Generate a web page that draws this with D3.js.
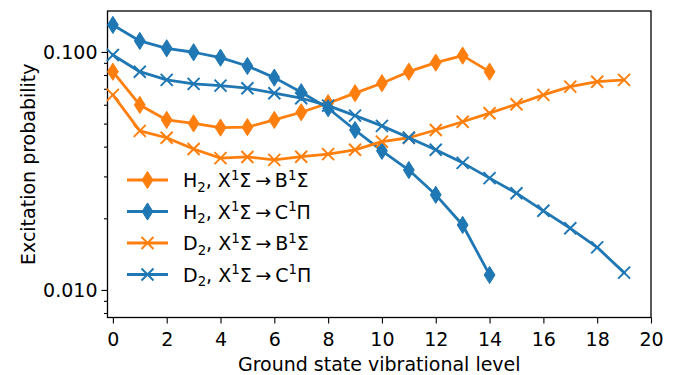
<!DOCTYPE html>
<html>
<head>
<meta charset="utf-8">
<script src="https://cdn.jsdelivr.net/npm/d3@7"></script>
<style>
  html, body { margin: 0; padding: 0; background: #fff; }
  svg { display: block; font-family: "DejaVu Sans", sans-serif; }
</style>
</head>
<body>
<svg id="chart" width="678" height="375"></svg>
<script>
// Vibrational levels of the ground state
const levelsH2 = [0, 1, 2, 3, 4, 5, 6, 7, 8, 9, 10, 11, 12, 13, 14];
const levelsD2 = [0, 1, 2, 3, 4, 5, 6, 7, 8, 9, 10, 11, 12, 13, 14, 15, 16, 17, 18, 19];

// Excitation probabilities per level
const h2XB = [0.0826, 0.0599, 0.0518, 0.0501, 0.0481, 0.0483, 0.0518, 0.0558, 0.0609, 0.0671,
              0.0739, 0.0826, 0.0902, 0.0965, 0.0826];
const h2XC = [0.1299, 0.1112, 0.1036, 0.0997, 0.0946, 0.0873, 0.0780, 0.0677, 0.0580, 0.0470,
              0.0384, 0.0319, 0.0251, 0.01875, 0.01156];
const d2XB = [0.0660, 0.0466, 0.0436, 0.0391, 0.0358, 0.0362, 0.0352, 0.0363, 0.0372, 0.0388,
              0.0420, 0.0436, 0.0470, 0.0509, 0.0553, 0.0603, 0.0660, 0.0715, 0.0750, 0.0763];
const d2XC = [0.0971, 0.0826, 0.0763, 0.0734, 0.0722, 0.0704, 0.0671, 0.0639, 0.0595, 0.0540,
              0.0489, 0.0436, 0.0388, 0.0342, 0.0295, 0.0255, 0.0215, 0.01816, 0.0151, 0.01182];

const xTicks = [0, 2, 4, 6, 8, 10, 12, 14, 16, 18, 20];
const yTicks = [0.01, 0.1];
const yTickLabels = ["0.010", "0.100"];

const ORANGE = "#ff7f0e", BLUE = "#1f77b4";

const series = [
  { levels: levelsH2, values: h2XB, color: ORANGE, marker: "diamond", mol: "H", upper: "B", term: "Σ" },
  { levels: levelsH2, values: h2XC, color: BLUE,   marker: "diamond", mol: "H", upper: "C", term: "Π" },
  { levels: levelsD2, values: d2XB, color: ORANGE, marker: "x",       mol: "D", upper: "B", term: "Σ" },
  { levels: levelsD2, values: d2XC, color: BLUE,   marker: "x",       mol: "D", upper: "C", term: "Π" }
];

const plot = { left: 107.5, right: 651, top: 11, bottom: 317.5 };
const FS = 19;

const svg = d3.select("#chart");

const x = d3.scaleLinear().domain([-0.2, 20]).range([plot.left, plot.right]);
const y = d3.scaleLog().domain([0.00766, 0.1486]).range([plot.bottom, plot.top]);

// Axes
const xAxis = d3.axisBottom(x).tickValues(xTicks).tickFormat(d3.format("d"))
  .tickSizeInner(6).tickSizeOuter(0);
const gx = svg.append("g").attr("transform", `translate(0,${plot.bottom})`).call(xAxis);

const minorY = [];
for (let e = -3; e <= 0; e++) for (let m = 2; m <= 9; m++) {
  const v = m * Math.pow(10, e);
  if (v >= y.domain()[0] && v <= y.domain()[1]) minorY.push(v);
}
const gyMinor = svg.append("g").attr("transform", `translate(${plot.left},0)`)
  .call(d3.axisLeft(y).tickValues(minorY).tickFormat("").tickSizeInner(3.5).tickSizeOuter(0));
const gy = svg.append("g").attr("transform", `translate(${plot.left},0)`)
  .call(d3.axisLeft(y).tickValues(yTicks).tickFormat((d, i) => yTickLabels[i])
    .tickSizeInner(6).tickSizeOuter(0).tickPadding(4));

[gx, gy, gyMinor].forEach(g => {
  g.select(".domain").remove();
  g.selectAll(".tick line").attr("stroke", "#000").attr("stroke-width", 1.1);
  g.selectAll(".tick text").attr("fill", "#000").style("font-size", FS + "px")
    .style("font-family", "DejaVu Sans");
});
gx.selectAll(".tick text").attr("y", 28).attr("dy", 0);

// Frame
svg.append("rect")
  .attr("x", plot.left).attr("y", plot.top)
  .attr("width", plot.right - plot.left).attr("height", plot.bottom - plot.top)
  .attr("fill", "none").attr("stroke", "#000").attr("stroke-width", 1.3);

// Axis titles
svg.append("text").attr("x", (plot.left + plot.right) / 2).attr("y", 371)
  .attr("text-anchor", "middle").style("font-size", FS + "px").text("Ground state vibrational level");
svg.append("text").attr("transform", `translate(35,${(plot.top + plot.bottom) / 2}) rotate(-90)`)
  .attr("text-anchor", "middle").style("font-size", FS + "px").text("Excitation probability");

// Marker shapes
function drawMarker(g, kind, color, cx, cy) {
  if (kind === "diamond") {
    const h = 8.6, w = 5.4;
    g.append("path").attr("d", `M${cx},${cy - h}L${cx + w},${cy}L${cx},${cy + h}L${cx - w},${cy}Z`)
      .attr("fill", color).attr("stroke", color).attr("stroke-width", 1);
  } else {
    const s = 6;
    g.append("path").attr("d", `M${cx - s},${cy - s}L${cx + s},${cy + s}M${cx - s},${cy + s}L${cx + s},${cy - s}`)
      .attr("fill", "none").attr("stroke", color).attr("stroke-width", 2);
  }
}

const line = d3.line().x(d => x(d[0])).y(d => y(d[1]));
const marks = svg.append("g");
series.forEach(s => {
  const pts = s.levels.map((l, i) => [l, s.values[i]]);
  const g = marks.append("g");
  g.append("path").datum(pts).attr("d", line)
    .attr("fill", "none").attr("stroke", s.color).attr("stroke-width", 2.8)
    .attr("stroke-linejoin", "round").attr("stroke-linecap", "square");
  pts.forEach(p => drawMarker(g, s.marker, s.color, x(p[0]), y(p[1])));
});

// Legend
const legend = svg.append("g");
const rowY = [180, 211.5, 243, 274.5];
series.forEach((s, i) => {
  const ly = rowY[i];
  legend.append("line").attr("x1", 127).attr("x2", 168).attr("y1", ly).attr("y2", ly)
    .attr("stroke", s.color).attr("stroke-width", 2.8);
  drawMarker(legend, s.marker, s.color, 147.5, ly);
  const t = legend.append("text").attr("x", 183).attr("y", ly + 7).style("font-size", FS + "px");
  t.append("tspan").text(s.mol);
  t.append("tspan").attr("dy", 4.5).style("font-size", (FS * 0.7) + "px").text("2");
  t.append("tspan").attr("dy", -4.5).text(", X");
  t.append("tspan").attr("dy", -7.5).style("font-size", (FS * 0.7) + "px").text("1");
  t.append("tspan").attr("dy", 7.5).text("Σ\u2009→\u2009" + s.upper);
  t.append("tspan").attr("dy", -7.5).style("font-size", (FS * 0.7) + "px").text("1");
  t.append("tspan").attr("dy", 7.5).text(s.term);
});
</script>
</body>
</html>
